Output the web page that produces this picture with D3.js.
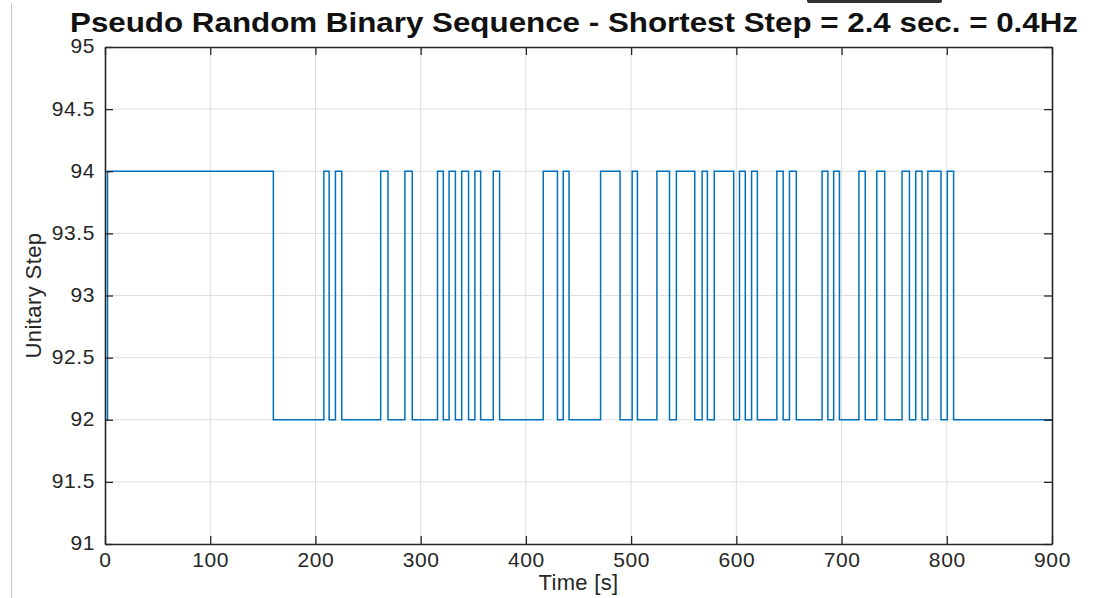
<!DOCTYPE html>
<html>
<head>
<meta charset="utf-8">
<script src="https://cdn.jsdelivr.net/npm/d3@7"></script>
<style>
  html, body { margin: 0; padding: 0; background: #fff; }
  svg { display: block; }
  text { font-family: "Liberation Sans", Arial, Helvetica, sans-serif; }
</style>
</head>
<body>
<svg id="chart" width="1109" height="598"></svg>
<script>
// PRBS switching instants (s) and the level held from each instant onward
const switchTimes = [0, 2.4, 160, 208, 213, 219, 225, 262, 269, 285, 292, 316, 321.5, 327, 333, 339, 345.5,
  351.5, 357, 369, 375, 416.5, 430, 435.5, 441, 471, 489.5, 501, 506, 524.5, 536.5, 543, 560.5,
  567.5, 572.5, 579, 597.5, 603, 608.5, 614.5, 620, 638.5, 644.5, 650.5, 657, 681.5, 687, 692.5,
  698, 716.5, 722.5, 733.5, 741, 757.5, 764.5, 770.5, 776.5, 782, 794.5, 800.5, 806.5, 900];
const levels = [92, 94, 92, 94, 92, 94, 92, 94, 92, 94, 92, 94, 92, 94, 92, 94, 92,
  94, 92, 94, 92, 94, 92, 94, 92, 94, 92, 94, 92, 94, 92, 94, 92,
  94, 92, 94, 92, 94, 92, 94, 92, 94, 92, 94, 92, 94, 92, 94,
  92, 94, 92, 94, 92, 94, 92, 94, 92, 94, 92, 94, 92, 92];
const xTicks = [0, 100, 200, 300, 400, 500, 600, 700, 800, 900];
const yTicks = [91, 91.5, 92, 92.5, 93, 93.5, 94, 94.5, 95];

const titleText = "Pseudo Random Binary Sequence - Shortest Step = 2.4 sec. = 0.4Hz";
const xLabel = "Time [s]";
const yLabel = "Unitary Step";

const svg = d3.select("#chart");
const box = { left: 105, right: 1052, top: 47, bottom: 544 };
const ink = "#262626";
const tickLen = 8;

const x = d3.scaleLinear().domain([0, 900]).range([box.left, box.right]);
const y = d3.scaleLinear().domain([91, 95]).range([box.bottom, box.top]);

// page frame details
svg.append("line").attr("x1", 11.5).attr("x2", 11.5).attr("y1", 3).attr("y2", 598)
  .attr("stroke", "#c8c8c8").attr("stroke-width", 1);
svg.append("path")
  .attr("d", "M807,0 L807,1 Q807,3 809,3 L940,3 Q942,3 942,1 L942,0 Z")
  .attr("fill", "#333");

// grid
const grid = svg.append("g").attr("stroke", "#dedede").attr("stroke-width", 1);
grid.selectAll("line.gx").data(xTicks.slice(1, -1)).join("line")
  .attr("x1", d => x(d)).attr("x2", d => x(d)).attr("y1", box.top).attr("y2", box.bottom);
grid.selectAll("line.gy").data(yTicks.slice(1, -1)).join("line")
  .attr("x1", box.left).attr("x2", box.right).attr("y1", d => y(d)).attr("y2", d => y(d));

// signal
const pts = switchTimes.map((t, i) => [t, levels[i]]);
const line = d3.line().x(d => x(d[0])).y(d => y(d[1])).curve(d3.curveStepAfter);
svg.append("path").datum(pts)
  .attr("d", line)
  .attr("fill", "none")
  .attr("stroke", "#0072BD")
  .attr("stroke-width", 1.5);

// axes: bottom/left with labels, top/right mirrored ticks only
const fmt = d => String(d);
const axB = svg.append("g").attr("transform", `translate(0,${box.bottom})`)
  .call(d3.axisBottom(x).tickValues(xTicks).tickFormat(fmt).tickSizeInner(-tickLen).tickSizeOuter(0).tickPadding(8));
const axL = svg.append("g").attr("transform", `translate(${box.left},0)`)
  .call(d3.axisLeft(y).tickValues(yTicks).tickFormat(fmt).tickSizeInner(-tickLen).tickSizeOuter(0).tickPadding(10));
const axT = svg.append("g").attr("transform", `translate(0,${box.top})`)
  .call(d3.axisTop(x).tickValues(xTicks).tickFormat("").tickSizeInner(-tickLen).tickSizeOuter(0));
const axR = svg.append("g").attr("transform", `translate(${box.right},0)`)
  .call(d3.axisRight(y).tickValues(yTicks).tickFormat("").tickSizeInner(-tickLen).tickSizeOuter(0));

[axB, axL, axT, axR].forEach(g => {
  g.select(".domain").attr("stroke", ink).attr("stroke-width", 1.6);
  g.selectAll(".tick line").attr("stroke", ink).attr("stroke-width", 1.3);
  g.selectAll(".tick text")
    .attr("fill", ink)
    .style("font-size", "21px")
    .style("letter-spacing", "0.6px");
});
axB.selectAll(".tick text").attr("dy", "0.72em");
axL.selectAll(".tick text").attr("dy", "0.28em");

// axis titles
svg.append("text")
  .attr("x", x(450)).attr("y", 590)
  .attr("text-anchor", "middle")
  .attr("fill", ink)
  .style("font-size", "22px")
  .style("letter-spacing", "0.3px")
  .text(xLabel);
svg.append("text")
  .attr("transform", `translate(41,${y(93)})rotate(-90)`)
  .attr("text-anchor", "middle")
  .attr("fill", ink)
  .style("font-size", "22px")
  .style("letter-spacing", "0.4px")
  .text(yLabel);

// title
svg.append("text")
  .attr("x", 574).attr("y", 32)
  .attr("text-anchor", "middle")
  .attr("fill", "#111")
  .style("font-size", "28px")
  .style("font-weight", "bold")
  .attr("textLength", 1008)
  .attr("lengthAdjust", "spacingAndGlyphs")
  .text(titleText);
</script>
</body>
</html>
